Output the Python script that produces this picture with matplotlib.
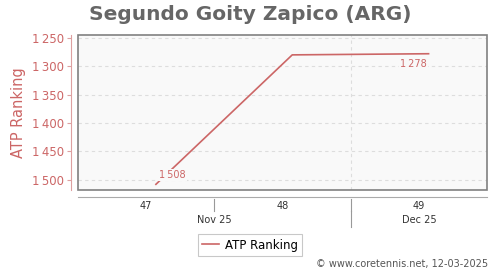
import matplotlib
matplotlib.use("Agg")
import matplotlib.pyplot as plt
import matplotlib.dates as mdates
from matplotlib.patches import Rectangle
import datetime as dt

title = "Segundo Goity Zapico (ARG)"
dates = ["2025-11-21", "2025-11-28", "2025-12-05"]
rankings = [1508, 1280, 1278]
labeled = {0: "1\u2009508", 2: "1\u2009278"}
yticks = [1250, 1300, 1350, 1400, 1450, 1500]
week_labels = ["47", "48", "49"]
week_centers = ["2025-11-20 12:00", "2025-11-27 12:00", "2025-12-04 12:00"]
week_seps = ["2025-11-24", "2025-12-01"]
month_labels = ["Nov 25", "Dec 25"]
month_centers = ["2025-11-24", "2025-12-04 12:00"]
month_seps = ["2025-12-01"]
xlim = ["2025-11-17", "2025-12-08"]

red = "#cc6666"
gray = "#999999"

def d(s):
    return mdates.date2num(dt.datetime.fromisoformat(s))

fig = plt.figure(figsize=(5, 2.7), dpi=100)
ax = fig.add_axes([78/500, 80/270, 409/500, 155/270])
ax.set_facecolor("#f9f9f9")
ax.add_patch(Rectangle((0, 0), 1, 1, transform=ax.transAxes, fill=False,
                       edgecolor="#808080", lw=1.2, clip_on=False, zorder=5))

x = [d(s) for s in dates]
ax.plot(x, rankings, color=red, lw=1.2, label="ATP Ranking", zorder=3)
for i, txt in labeled.items():
    if i == 0:
        off, va = (12, 3), "bottom"
    else:
        off, va = (-11, -4), "top"
    ax.annotate(txt, (x[i], rankings[i]), xytext=off, textcoords="offset points",
                ha="center", va=va, fontsize=7, color=red, zorder=4,
                bbox=dict(boxstyle="square,pad=0.1", fc="#f9f9f9", ec="none"))

ax.set_xlim(d(xlim[0]), d(xlim[1]))
ax.set_ylim(1518, 1245)
ax.set_yticks(yticks)
ax.set_yticklabels([f"{v:,}".replace(",", "\u2009") for v in yticks])
ax.grid(axis="y", color="#dddddd", ls=(0, (3, 3)), lw=0.8)
for s in month_seps:
    ax.axvline(d(s), color="#dddddd", ls=(0, (3, 3)), lw=0.8, zorder=1)

for k in ["top", "right"]:
    ax.spines[k].set_visible(False)
ax.spines["left"].set_position(("outward", 5))
ax.spines["left"].set_color("#dda0a0")
ax.spines["bottom"].set_position(("outward", 5))
ax.spines["bottom"].set_color("#aaaaaa")
ax.tick_params(axis="y", colors="#dda0a0", labelcolor=red, labelsize=8.5, length=3, width=0.8, pad=2)
ax.set_xticks([d(s) for s in week_centers])
ax.set_xticklabels(week_labels)
ax.tick_params(axis="x", length=0, labelsize=7, pad=3, labelcolor="#333333")
ax.set_ylabel("ATP Ranking", color=red, fontsize=10.5, labelpad=4)

tr = ax.get_xaxis_transform()
for s in week_seps:
    ax.plot([d(s), d(s)], [-0.058, -0.135], transform=tr, color=gray, lw=0.8, clip_on=False)
for s in month_seps:
    ax.plot([d(s), d(s)], [-0.135, -0.24], transform=tr, color=gray, lw=0.8, clip_on=False)
for lab, c in zip(month_labels, month_centers):
    ax.text(d(c), -0.195, lab, transform=tr, ha="center", va="center", fontsize=7, color="#333333")

fig.text(0.5, 0.945, title, ha="center", va="center", fontsize=14.5, fontweight="bold", color="#666666")
leg = fig.legend(loc="center", bbox_to_anchor=(0.5, 1 - 245/270), fontsize=8.5,
                 frameon=True, fancybox=False, edgecolor="#bbbbbb", handlelength=1.5,
                 borderpad=0.35, handletextpad=0.5)
leg.get_frame().set_linewidth(0.8)
fig.text(488/500, 1 - 264/270, "\u00a9 www.coretennis.net, 12-03-2025", ha="right", va="center",
         fontsize=7, color="#555555")
fig.savefig("out.png", dpi=100)
